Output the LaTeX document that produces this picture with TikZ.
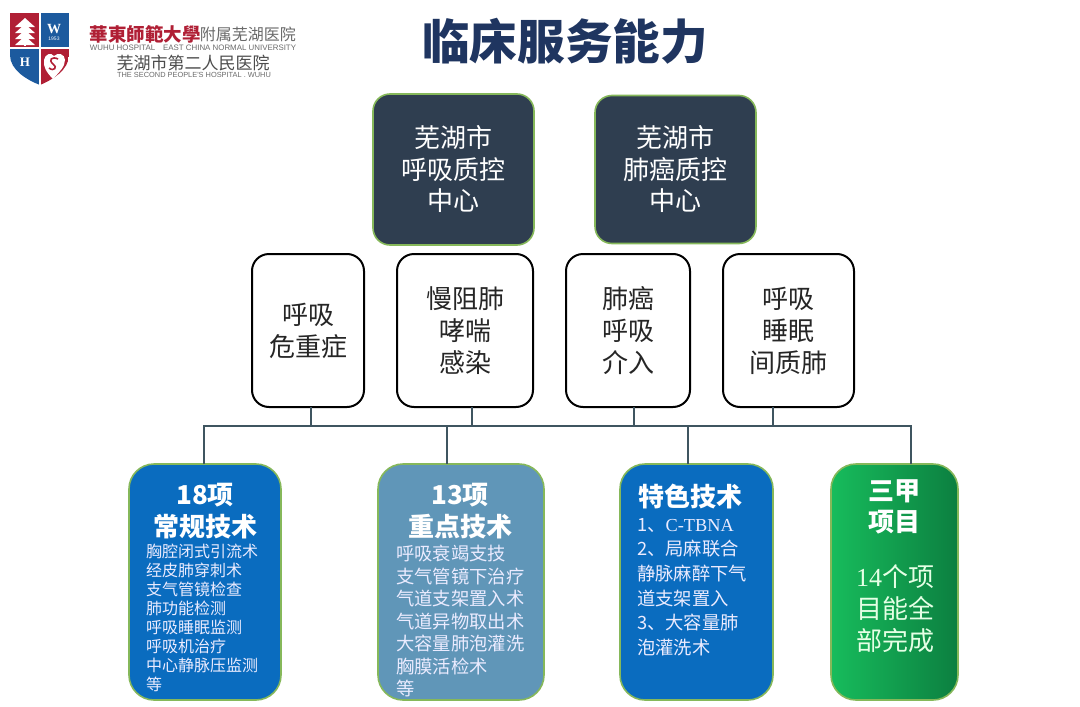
\documentclass[tikz,border=0pt]{standalone}
\usepackage{fontspec}
\setmainfont{Noto Sans CJK SC}
\newfontfamily\latinserif{Liberation Serif}
\newfontfamily\latinsans{Liberation Sans}
\usetikzlibrary{positioning}
\definecolor{titlenavy}{HTML}{1F3560}
\definecolor{slate}{HTML}{2F3E50}
\definecolor{busline}{HTML}{3F5560}
\definecolor{edgegreen}{HTML}{86B85A}
\definecolor{techblue}{HTML}{0A6CBF}
\definecolor{keyteal}{HTML}{6096B8}
\definecolor{gradelight}{HTML}{17BC5C}
\definecolor{gradedark}{HTML}{0C7F40}
\definecolor{logored}{HTML}{B01F35}
\definecolor{logoblue}{HTML}{1C5A9E}
\definecolor{logogray}{HTML}{6A6A6A}
\tikzset{
    centerbox/.style={draw=edgegreen, line width=1.6pt, fill=slate, rounded corners=17pt, text=white, align=center, inner sep=0pt, outer sep=0pt, minimum width=161pt, font=\fontsize{26}{31.5}\selectfont},
    groupbox/.style={draw=black, line width=2pt, fill=white, rounded corners=17pt, text=black!85, align=center, inner sep=0pt, outer sep=0pt, minimum height=153pt, font=\fontsize{26}{32}\selectfont},
    techbox/.style={draw=edgegreen, line width=1.6pt, rounded corners=25pt, inner sep=0pt, outer sep=0pt, minimum height=236pt},
    techhead/.style={text=white, align=center, inner sep=0pt, font=\fontsize{26}{31.5}\selectfont\bfseries},
    techlist/.style={text=white!92!blue, align=left, inner sep=0pt},
    busstyle/.style={draw=busline, line width=1.6pt}
}
\begin{document}
\begin{tikzpicture}[x=1pt, y=-1pt]
    \useasboundingbox (0,0) rectangle (1080,707);

    \begin{scope}
        \clip (10,13) -- (69,13) -- (69,55) .. controls (69,70) and (52,80) .. (40,85) .. controls (27,80) and (10,70) .. (10,55) -- cycle;
        \fill[logored] (10,13) rectangle (39,47);
        \fill[logoblue] (41,13) rectangle (69,47);
        \fill[logoblue] (10,49) rectangle (39,85);
        \fill[logored] (41,49) rectangle (69,85);
    \end{scope}
    \foreach \treey in {18,24,30,36}
        \fill[white] (25,\treey) -- (35,\treey+9) -- (15,\treey+9) -- cycle;
    \fill[white] (24,44) rectangle (26,46);
    \fill[white] (53,79) .. controls (46,72) and (43,66) .. (44,60) .. controls (45,54) and (51,52) .. (54,56) .. controls (58,52) and (65,54) .. (65,60) .. controls (65,67) and (59,72) .. (53,79) -- cycle;
    \draw[logored, line width=1.6pt] (58,59) .. controls (52,56) and (48,60) .. (53,64) .. controls (58,67) and (54,72) .. (49,68);
    \node[text=white, inner sep=0pt, font=\latinserif\bfseries\fontsize{14}{14}\selectfont] (logo-w) at (54,29) {W};
    \node[text=white, inner sep=0pt, font=\latinsans\fontsize{5}{5}\selectfont] (logo-year) at (54,39) {1953};
    \node[text=white, inner sep=0pt, font=\latinserif\bfseries\fontsize{13}{13}\selectfont] (logo-h) at (25,62) {H};

    \node[text=logored, inner sep=0pt, font=\bfseries\fontsize{18.5}{18.5}\selectfont] (logo-school) at (145,34) {華東師範大學};
    \node[text=logogray, inner sep=0pt, font=\fontsize{16}{16}\selectfont, right=-1pt of logo-school] (logo-branch) {附属芜湖医院};
    \node[text=logogray, inner sep=0pt, font=\latinsans\fontsize{7.9}{8}\selectfont] (logo-english) at (193,48) {WUHU HOSPITAL\quad EAST CHINA NORMAL UNIVERSITY};
    \node[text=black!70, inner sep=0pt, font=\fontsize{17}{17}\selectfont] (logo-second) at (193,63) {芜湖市第二人民医院};
    \node[text=logogray, inner sep=0pt, font=\latinsans\fontsize{7.4}{8}\selectfont] (logo-english-second) at (194,75) {THE SECOND PEOPLE'S HOSPITAL . WUHU};

    \node[text=titlenavy, inner sep=0pt, font=\bfseries\fontsize{47.6}{48}\selectfont] (title) at (565,41) {临床服务能力};

    \node[centerbox, minimum height=151pt] (breath-center) at (453.5,169.5) {芜湖市\\呼吸质控\\中心};
    \node[centerbox, minimum height=148pt, right=61pt of breath-center] (cancer-center) {芜湖市\\肺癌质控\\中心};

    \node[groupbox, minimum width=112pt] (critical) at (308,330.5) {呼吸\\危重症};
    \node[groupbox, minimum width=136pt, right=33pt of critical] (copd) {慢阻肺\\哮喘\\感染};
    \node[groupbox, minimum width=124pt, right=33pt of copd] (cancer) {肺癌\\呼吸\\介入};
    \node[groupbox, minimum width=131pt, right=33pt of cancer] (sleep) {呼吸\\睡眠\\间质肺};

    \node[techbox, fill=techblue, minimum width=152pt] (routine) at (205,582) {};
    \node[techbox, fill=keyteal, minimum width=166pt, right=97pt of routine] (key) {};
    \node[techbox, fill=techblue, minimum width=153pt, right=76pt of key] (special) {};
    \node[techbox, left color=gradelight, middle color=gradelight, right color=gradedark, minimum width=127pt, right=58pt of special] (grade) {};

    \node[techhead] (routine-head) at (205,511) {18项\\常规技术};
    \node[techlist, anchor=north west, font=\fontsize{16}{19}\selectfont] (routine-list) at (146,544) {胸腔闭式引流术\\经皮肺穿刺术\\支气管镜检查\\肺功能检测\\呼吸睡眠监测\\呼吸机治疗\\中心静脉压监测\\等};
    \node[techhead] (key-head) at (460,511) {13项\\重点技术};
    \node[techlist, anchor=north west, font=\fontsize{18.3}{22.5}\selectfont] (key-list) at (396,545) {呼吸衰竭支技\\支气管镜下治疗\\气道支架置入术\\气道异物取出术\\大容量肺泡灌洗\\胸膜活检术\\等};
    \node[techhead] (special-head) at (690.5,496) {特色技术};
    \node[techlist, anchor=north west, font=\fontsize{18.3}{24.6}\selectfont] (special-list) at (637,518) {1、{\latinserif C-TBNA}\\2、局麻联合\\静脉麻醉下气\\道支架置入\\3、大容量肺\\泡灌洗术};
    \node[techhead] (grade-head) at (894,507) {三甲\\项目};
    \node[text=white!90!green, align=center, inner sep=0pt, font=\fontsize{26}{32}\selectfont] (grade-list) at (895,609) {{\latinserif 14}个项\\目能全\\部完成};

    \coordinate (bus-left) at (204,426);
    \coordinate (bus-right) at (911,426);
    \coordinate (stem-critical) at (311,426);
    \coordinate (stem-copd) at (472,426);
    \coordinate (stem-cancer) at (634,426);
    \coordinate (stem-sleep) at (773,426);
    \coordinate (drop-key) at (447,426);
    \coordinate (drop-special) at (688,426);

    \draw[busstyle] (routine.north -| bus-left) -- (bus-left) -- (bus-right) -- (grade.north -| bus-right);
    \draw[busstyle] (critical.south -| stem-critical) -- (stem-critical);
    \draw[busstyle] (copd.south -| stem-copd) -- (stem-copd);
    \draw[busstyle] (cancer.south -| stem-cancer) -- (stem-cancer);
    \draw[busstyle] (sleep.south -| stem-sleep) -- (stem-sleep);
    \draw[busstyle] (drop-key) -- (key.north -| drop-key);
    \draw[busstyle] (drop-special) -- (special.north -| drop-special);
\end{tikzpicture}
\end{document}
